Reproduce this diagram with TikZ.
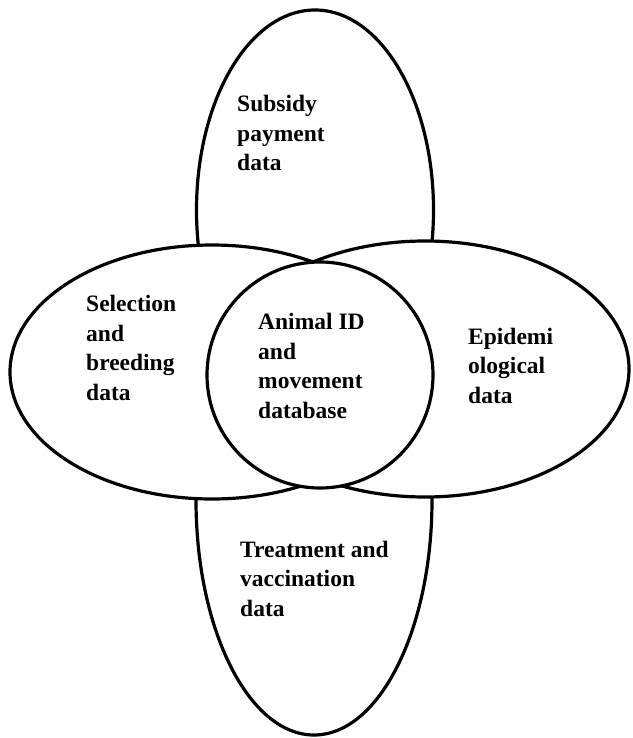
\documentclass[tikz,border=0pt]{standalone}
\usepackage{fontspec}
\setmainfont{Liberation Serif}
\begin{document}
\begin{tikzpicture}[x=1pt,y=-1pt,
  outline/.style={line width=3.2pt, draw=black, fill=white},
  lbl/.style={font=\fontsize{23.5}{29.5}\selectfont\bfseries, align=left, anchor=base west, inner sep=0pt}]
\useasboundingbox (0,0) rectangle (632,738);
% vertical ovals (top and bottom)
\draw[outline] (315,210) ellipse [x radius=118.5pt, y radius=200pt];
\draw[outline] (314,500) ellipse [x radius=118pt, y radius=235pt];
% horizontal ellipses
\draw[outline] (212,372) ellipse [x radius=202pt, y radius=127pt];
\draw[outline] (425,369) ellipse [x radius=204pt, y radius=128pt];
% central circle
\draw[outline] (320,375) circle [radius=113pt];
% labels (anchor = baseline of the last line)
\node[lbl] (subsidy) at (237,171) {Subsidy\\payment\\data};
\node[lbl] (treat) at (240,616) {Treatment and\\vaccination\\data};
\node[lbl] (sel) at (86,400) {Selection\\and\\breeding\\data};
\node[lbl] (animal) at (258,418) {Animal ID\\and\\movement\\database};
\node[lbl] (epi) at (468,403) {Epidemi\\ological\\data};
\end{tikzpicture}
\end{document}
